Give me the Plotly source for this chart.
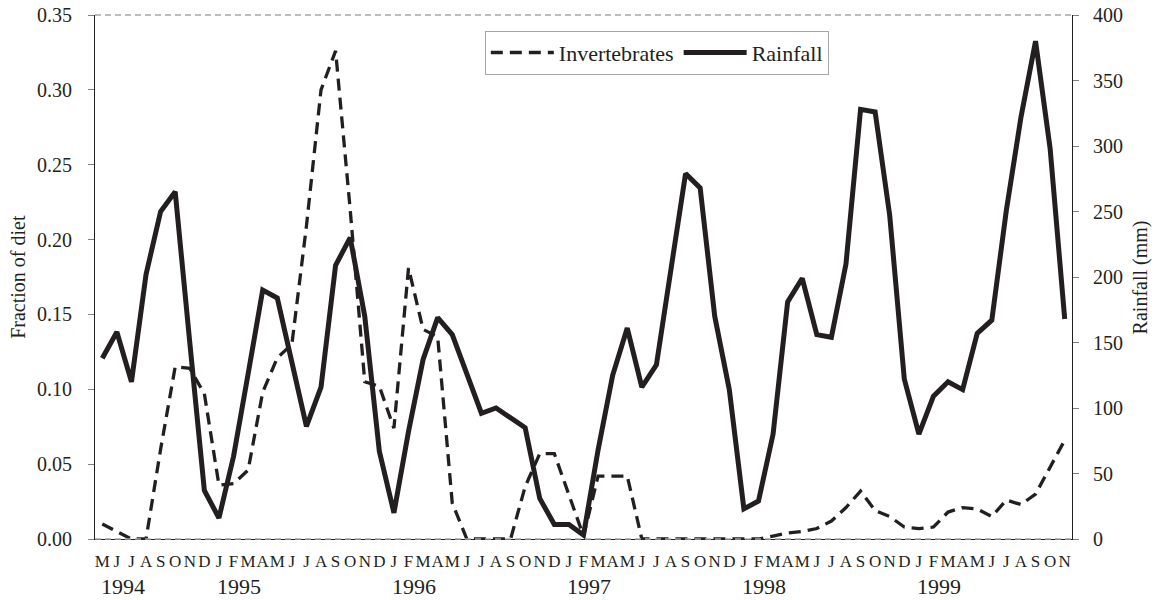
import plotly.graph_objects as go

# ---- data -------------------------------------------------------------
months = (["M", "J", "J", "A", "S", "O", "N", "D"]
          + ["J", "F", "M", "A", "M", "J", "J", "A", "S", "O", "N", "D"] * 4
          + ["J", "F", "M", "A", "M", "J", "J", "A", "S", "O", "N"])

years = ["1994", "1995", "1996", "1997", "1998", "1999"]
year_first_month_index = [0, 8, 20, 32, 44, 56]

invertebrates = [
    0.010, 0.005, 0.000, 0.000, 0.060, 0.115, 0.114, 0.097,          # 1994
    0.036, 0.037, 0.046, 0.098, 0.121, 0.130, 0.209, 0.300,          # 1995
    0.326, 0.220, 0.105, 0.102,
    0.074, 0.181, 0.140, 0.135, 0.024, 0.000, 0.000, 0.000,          # 1996
    0.000, 0.035, 0.057, 0.057,
    0.030, 0.002, 0.042, 0.042, 0.042, 0.000, 0.000, 0.000,          # 1997
    0.000, 0.000, 0.000, 0.000,
    0.000, 0.000, 0.002, 0.004, 0.005, 0.007, 0.012, 0.021,          # 1998
    0.032, 0.019, 0.015, 0.008,
    0.007, 0.008, 0.018, 0.021, 0.020, 0.015, 0.026, 0.023,          # 1999
    0.030, 0.048, 0.066,
]

rainfall = [
    138, 158, 120, 202, 250, 265, 150, 37,                           # 1994
    16, 63, 126, 190, 184, 135, 86, 116, 209, 230, 170, 67,          # 1995
    20, 82, 137, 169, 156, 126, 96, 100, 92, 85, 31, 11,             # 1996
    11, 3, 68, 125, 161, 116, 133, 206, 279, 268, 170, 114,          # 1997
    23, 29, 80, 181, 199, 156, 154, 210, 328, 326, 247, 122,         # 1998
    80, 109, 120, 114, 157, 167, 251, 322, 380, 298, 168,            # 1999
]

# ---- figure -----------------------------------------------------------
FONT = "Liberation Serif, Times New Roman, serif"
INK = "#231f20"
GRID = "#a6a6a6"

x = list(range(len(months)))
n = len(months)
boundaries = [k - 0.5 for k in range(0, n, 4)] + [n - 0.5]

fig = go.Figure()
fig.add_trace(go.Scatter(
    x=x, y=invertebrates, name="Invertebrates", mode="lines",
    line=dict(color=INK, width=3.3, dash="12px,7px"), yaxis="y",
))
fig.add_trace(go.Scatter(
    x=x, y=rainfall, name="Rainfall", mode="lines",
    line=dict(color=INK, width=5), yaxis="y2",
))

annotations = []
for yr, idx in zip(years, year_first_month_index):
    annotations.append(dict(
        x=idx + 1.4, y=-0.090, xref="x", yref="paper", text=yr,
        showarrow=False, xanchor="center", yanchor="middle",
        font=dict(family=FONT, size=22, color=INK),
    ))
annotations.append(dict(
    x=-0.079, y=0.5, xref="paper", yref="paper", text="Fraction of diet",
    textangle=-90, showarrow=False, xanchor="center", yanchor="middle",
    font=dict(family=FONT, size=20, color=INK),
))
annotations.append(dict(
    x=1.07, y=0.5, xref="paper", yref="paper", text="Rainfall (mm)",
    textangle=-90, showarrow=False, xanchor="center", yanchor="middle",
    font=dict(family=FONT, size=20, color=INK),
))

fig.update_layout(
    width=1161, height=600,
    margin=dict(l=95, r=89, t=15, b=61, autoexpand=False),
    paper_bgcolor="white", plot_bgcolor="white",
    font=dict(family=FONT, color=INK),
    showlegend=True,
    legend=dict(
        x=0.399, y=0.970, xanchor="left", yanchor="top",
        orientation="h", bgcolor="white",
        bordercolor=GRID, borderwidth=1,
        font=dict(family=FONT, size=22, color=INK),
        itemwidth=63, traceorder="normal",
    ),
    xaxis=dict(
        range=[-0.5, n - 0.5], tickmode="array", tickvals=x, ticktext=months,
        tickangle=0, ticks="", showgrid=False, zeroline=False,
        showline=True, linecolor=INK, linewidth=1,
        tickfont=dict(family=FONT, size=17, color=INK),
        ticklabelstandoff=7, automargin=False,
    ),
    xaxis2=dict(
        overlaying="x", anchor="y", side="bottom",
        range=[-0.5, n - 0.5], tickmode="array", tickvals=boundaries,
        ticks="outside", ticklen=4, tickcolor="#808080",
        showticklabels=False, showgrid=False, zeroline=False, showline=False,
        automargin=False,
    ),
    xaxis3=dict(
        overlaying="x", anchor="y", side="bottom",
        range=[-0.5, n - 0.5], tickmode="array", tickvals=boundaries,
        ticks="inside", ticklen=4, tickcolor="#808080",
        showticklabels=False, showgrid=False, zeroline=False, showline=False,
        automargin=False,
    ),
    yaxis=dict(
        range=[0, 0.35], tick0=0, dtick=0.05, tickformat=".2f",
        ticks="outside", ticklen=6, tickcolor="#808080",
        showgrid=False, zeroline=False,
        showline=True, linecolor=INK, linewidth=1,
        tickfont=dict(family=FONT, size=20, color=INK),
        ticklabelstandoff=12, automargin=False,
    ),
    yaxis2=dict(
        overlaying="y", side="right", anchor="x",
        range=[0, 400], tick0=0, dtick=50,
        ticks="outside", ticklen=6, tickcolor="#808080",
        showgrid=False, zeroline=False,
        showline=True, linecolor=INK, linewidth=1,
        tickfont=dict(family=FONT, size=20, color=INK),
        ticklabelstandoff=10, automargin=False,
    ),
    shapes=[
        dict(type="line", xref="paper", yref="paper", x0=0, x1=1, y0=1, y1=1,
             line=dict(color=GRID, width=1.5, dash="6px,4px"), layer="below"),
        dict(type="line", xref="paper", yref="paper", x0=0, x1=1, y0=0, y1=0,
             line=dict(color=GRID, width=1.5, dash="6px,4px"), layer="above"),
    ],
    annotations=annotations,
)

fig.write_html(
    "out.html",
    post_script="document.body.style.margin='0px';"
                "document.documentElement.style.overflow='hidden';",
)
